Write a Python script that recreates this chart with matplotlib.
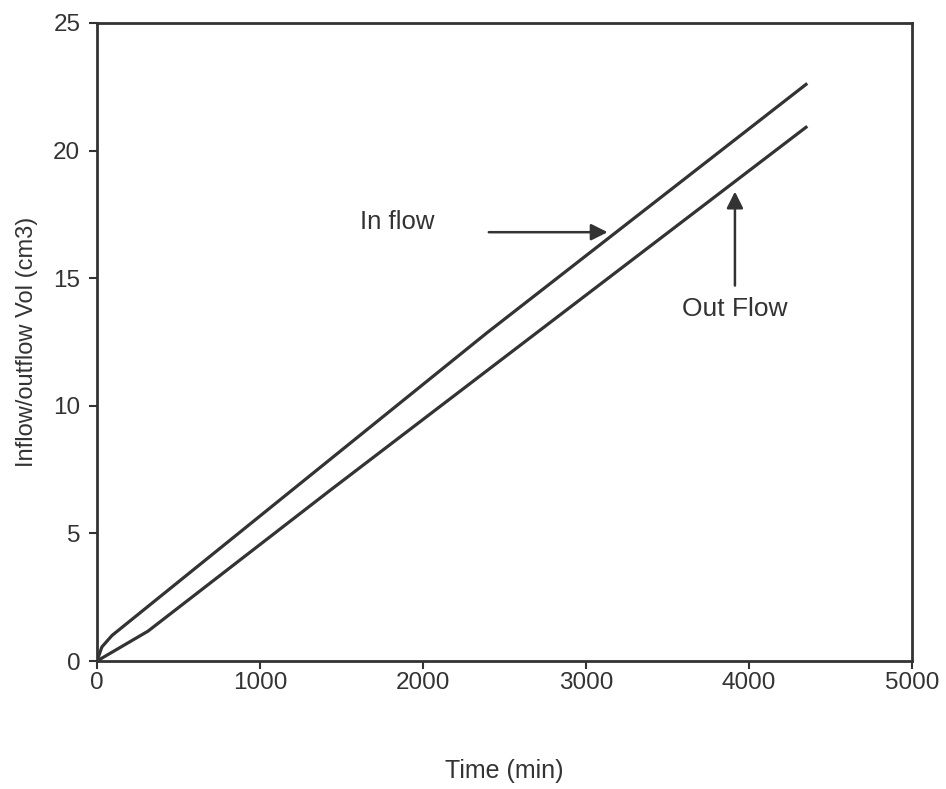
import numpy as np
import matplotlib.pyplot as plt

plt.rcParams['font.family'] = ['Liberation Sans', 'DejaVu Sans']

# values
in_time = [0, 30, 92, 2391, 4350]
in_vol = [0, 0.55, 1.0, 12.85, 22.59]
out_time = [0, 313, 1429, 4350]
out_vol = [0, 1.17, 6.68, 20.91]

ink = '#333333'

fig = plt.figure(figsize=(9.46, 7.89), dpi=100)
ax = fig.add_axes([0.1025, 0.1622, 0.8615, 0.8088])

ax.plot(in_time, in_vol, color=ink, lw=2.3)
ax.plot(out_time, out_vol, color=ink, lw=2.3)

ax.set_xlim(0, 5000)
ax.set_ylim(0, 25)
ax.set_xticks([0, 1000, 2000, 3000, 4000, 5000])
ax.set_yticks([0, 5, 10, 15, 20, 25])
ax.tick_params(direction='out', length=6, width=1.5, colors=ink, labelsize=17.5)
ax.tick_params(axis='x', pad=2)
ax.tick_params(axis='y', pad=6)
for s in ax.spines.values():
    s.set_color(ink)
    s.set_linewidth(2)

ax.set_xlabel('Time (min)', fontsize=18, color=ink, labelpad=47)
ax.set_ylabel('Inflow/outflow Vol (cm3)', fontsize=17, color=ink, labelpad=11)

# annotations
ax.text(1613, 17.2, 'In flow', fontsize=18.5, color=ink, va='center', ha='left')
ax.annotate('', xy=(3150, 16.8), xytext=(2387, 16.8),
            arrowprops=dict(arrowstyle='-|>', color=ink, lw=1.8, mutation_scale=25))
ax.text(3914, 13.8, 'Out Flow', fontsize=19, color=ink, va='center', ha='center')
ax.annotate('', xy=(3914, 18.5), xytext=(3914, 14.6),
            arrowprops=dict(arrowstyle='-|>', color=ink, lw=1.8, mutation_scale=25))

fig.savefig('out.png', dpi=100)
